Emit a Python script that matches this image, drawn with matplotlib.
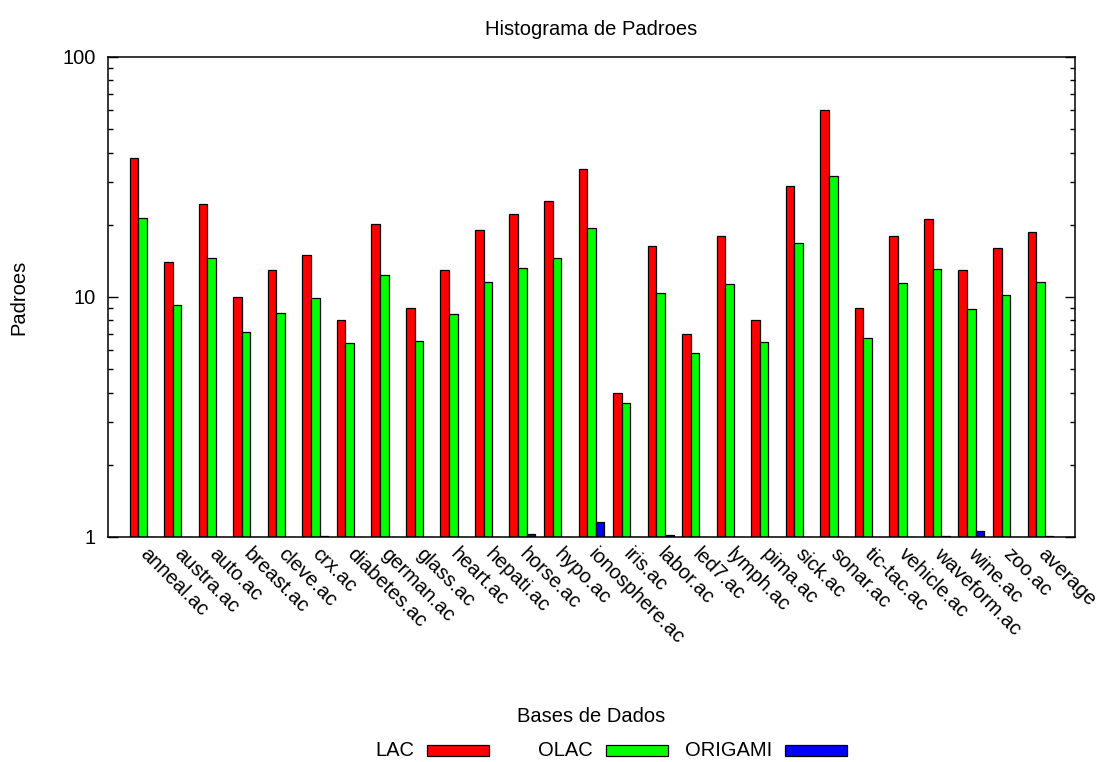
import matplotlib
matplotlib.use("Agg")
import matplotlib.pyplot as plt
from matplotlib.patches import Rectangle
import numpy as np

plt.rcParams['font.family'] = ['Liberation Sans', 'DejaVu Sans']

categories = ["anneal.ac", "austra.ac", "auto.ac", "breast.ac", "cleve.ac", "crx.ac",
              "diabetes.ac", "german.ac", "glass.ac", "heart.ac", "hepati.ac", "horse.ac",
              "hypo.ac", "ionosphere.ac", "iris.ac", "labor.ac", "led7.ac", "lymph.ac",
              "pima.ac", "sick.ac", "sonar.ac", "tic-tac.ac", "vehicle.ac", "waveform.ac",
              "wine.ac", "zoo.ac", "average"]

lac = [38.0, 14.0, 24.5, 10.0, 13.0, 15.0, 8.0, 20.1, 9.0, 13.0, 19.0, 22.1, 25.0,
       34.1, 4.0, 16.3, 7.0, 18.0, 8.0, 29.1, 60.0, 9.0, 18.0, 21.1, 13.0, 16.0, 18.6]
olac = [21.3, 9.3, 14.6, 7.17, 8.6, 9.94, 6.43, 12.35, 6.58, 8.52, 11.6, 13.2, 14.6,
        19.4, 3.62, 10.4, 5.83, 11.3, 6.49, 16.8, 32.0, 6.73, 11.4, 13.1, 8.89, 10.2, 11.5]
origami = [1.0, 1.0, 1.0, 1.0, 1.0, 1.01, 1.0, 1.0, 1.0, 1.0, 1.0, 1.03, 1.0,
           1.16, 1.0, 1.02, 1.0, 1.0, 1.0, 1.0, 1.0, 1.0, 1.0, 1.01, 1.06, 1.0, 1.01]

series_names = ["LAC", "OLAC", "ORIGAMI"]
series_colors = ["#ff0000", "#00ff00", "#0000ff"]

FS = 14.5

fig = plt.figure(figsize=(10.98, 7.62), dpi=100)
ax = fig.add_axes([108 / 1098, 1 - 537 / 762, (1075 - 108) / 1098, (537 - 57) / 762])

x = np.arange(len(categories))
width = 0.25
base = 1.0
for k, (vals, color) in enumerate(zip([lac, olac, origami], series_colors)):
    vals = np.asarray(vals)
    ax.bar(x + (k - 1) * width, vals - base, width=width, bottom=base,
           color=color, edgecolor="black", linewidth=0.9)

ax.set_yscale("log")
ax.set_ylim(1, 100)
ax.set_xlim(-1, 27)

ax.set_yticks([1, 10, 100])
ax.set_yticklabels(["1", "10", "100"])
ax.tick_params(axis="y", which="major", direction="in", length=7, width=1,
               left=True, right=True, labelsize=FS, pad=9)
ax.tick_params(axis="y", which="minor", direction="in", length=3.5, width=1,
               left=True, right=True)

ax.set_xticks(x)
ax.set_xticklabels(categories, rotation=-45, ha="left", va="center",
                   rotation_mode="anchor")
ax.tick_params(axis="x", which="both", length=0, labelsize=FS, pad=10)

for s in ax.spines.values():
    s.set_linewidth(1.1)

ax.set_title("Histograma de Padroes", fontsize=FS, pad=15.5)
ax.set_ylabel("Padroes", fontsize=FS)
ax.yaxis.set_label_coords(-0.0827, 0.5)
fig.text(591.5 / 1098, 1 - 717 / 762, "Bases de Dados", ha="center", va="center",
         fontsize=FS)

# key: label right-aligned, followed by a sample box
box_w, box_h = 62 / 1098, 11 / 762
for k, (name, color) in enumerate(zip(series_names, series_colors)):
    x0 = (427 + 179 * k) / 1098
    yc = 1 - 750.5 / 762
    fig.patches.append(Rectangle((x0, yc - box_h / 2), box_w, box_h,
                                 transform=fig.transFigure, facecolor=color,
                                 edgecolor="black", linewidth=0.9))
    fig.text(x0 - 13 / 1098, yc, name, ha="right", va="center", fontsize=FS)

fig.savefig("out.png", dpi=100)
